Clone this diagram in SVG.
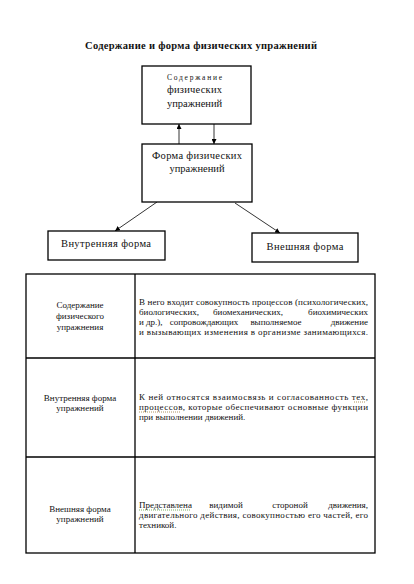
<svg xmlns="http://www.w3.org/2000/svg" width="414" height="584" viewBox="0 0 414 584" font-family="'Liberation Serif', 'Times New Roman', serif">
<style>
  text { font-family: "Liberation Serif", "Times New Roman", serif; fill: #111; }
  .t { font-size: 10.5px; }
  .s { font-size: 9px; }
  .e { font-size: 9px; text-anchor: end; }
  .m { font-size: 9px; text-anchor: middle; }
  .box { fill: #fff; stroke: #000; stroke-width: 1.3; }
  .line { stroke: #000; stroke-width: 0.8; fill: none; }
  .grid { stroke: #000; stroke-width: 1.3; fill: none; }
  .sp { stroke-width: 0.8; fill: none; stroke-dasharray: 1 1; }
</style>
<defs>
  <marker id="ah" viewBox="0 0 10 10" refX="10" refY="5" markerWidth="5" markerHeight="5" orient="auto" markerUnits="userSpaceOnUse">
    <path d="M0,0 L10,5 L0,10 z" fill="#000"/>
  </marker>
</defs>
<rect width="414" height="584" fill="#fff"/>
<text x="201" y="49" text-anchor="middle" font-weight="bold" font-size="10.5px" textLength="232">Содержание и форма физических упражнений</text>

<g id="connectors">
  <line class="line" x1="179" y1="144" x2="179" y2="124" marker-end="url(#ah)"/>
  <line class="line" x1="214" y1="124" x2="214" y2="144" marker-end="url(#ah)"/>
  <line class="line" x1="157" y1="202" x2="115" y2="231" marker-end="url(#ah)"/>
  <line class="line" x1="235" y1="203" x2="280" y2="233" marker-end="url(#ah)"/>
</g>

<g id="node-content">
  <rect class="box" x="142" y="66" width="109" height="58"/>
  <text x="167" y="80" font-size="7.5px" textLength="55">Содержание</text>
  <text class="t" x="167" y="93" textLength="55">физических</text>
  <text class="t" x="167" y="107">упражнений</text>
</g>

<g id="node-form">
  <rect class="box" x="142" y="144" width="110" height="58"/>
  <text class="t" x="197" y="159" text-anchor="middle" textLength="90">Форма физических</text>
  <text class="t" x="197" y="172" text-anchor="middle">упражнений</text>
</g>

<g id="node-inner">
  <rect class="box" x="48" y="231" width="117" height="29"/>
  <text class="t" x="106" y="247" text-anchor="middle" textLength="90">Внутренняя форма</text>
</g>

<g id="node-outer">
  <rect class="box" x="252" y="233" width="106" height="29"/>
  <text class="t" x="305" y="250" text-anchor="middle" textLength="77">Внешняя форма</text>
</g>

<g id="table">
  <rect class="grid" x="26" y="274" width="349" height="279"/>
  <line class="grid" x1="135" y1="274" x2="135" y2="553"/>
  <line class="grid" x1="26" y1="358" x2="375" y2="358"/>
  <line class="grid" x1="26" y1="457" x2="375" y2="457"/>

  <text class="m" x="80" y="308">Содержание</text>
  <text class="m" x="80" y="319">физического</text>
  <text class="m" x="80" y="330">упражнения</text>

  <text class="s" x="139" y="305" textLength="229" lengthAdjust="spacing">В него входит совокупность процессов (психологических,</text>
  <text class="s" x="139" y="315">биологических,</text>
  <text class="m" x="248" y="315">биомеханических,</text>
  <text class="e" x="368" y="315">биохимических</text>
  <text class="s" x="139" y="325">и</text>
  <text class="s" x="146" y="325">др.),</text>
  <text class="m" x="204" y="325">сопровождающих</text>
  <text class="m" x="276" y="325">выполняемое</text>
  <text class="e" x="368" y="325">движение</text>
  <text class="s" x="139" y="335" textLength="229" lengthAdjust="spacing">и вызывающих изменения в организме занимающихся.</text>

  <text class="m" x="80" y="401">Внутренняя форма</text>
  <text class="m" x="80" y="411">упражнений</text>

  <text class="s" x="139" y="400" textLength="229" lengthAdjust="spacing">К ней относятся взаимосвязь и согласованность тех,</text>
  <text class="s" x="139" y="410" textLength="229" lengthAdjust="spacing">процессов, которые обеспечивают основные функции</text>
  <text class="s" x="139" y="420">при выполнении движений.</text>
  <line class="sp" x1="354" y1="402" x2="366" y2="402" stroke="#9a7a3a"/>
  <line class="sp" x1="139" y1="412" x2="180" y2="412" stroke="#9a7a3a"/>

  <text class="m" x="80" y="512">Внешняя форма</text>
  <text class="m" x="80" y="522">упражнений</text>

  <text class="s" x="139" y="508">Представлена</text>
  <text class="m" x="226" y="508">видимой</text>
  <text class="m" x="290" y="508">стороной</text>
  <text class="e" x="368" y="508">движения,</text>
  <line class="sp" x1="139" y1="510" x2="190" y2="510" stroke="#5a9a3a"/>
  <text class="s" x="139" y="518" textLength="229" lengthAdjust="spacing">двигательного действия, совокупностью его частей, его</text>
  <text class="s" x="139" y="528">техникой.</text>
</g>
</svg>
